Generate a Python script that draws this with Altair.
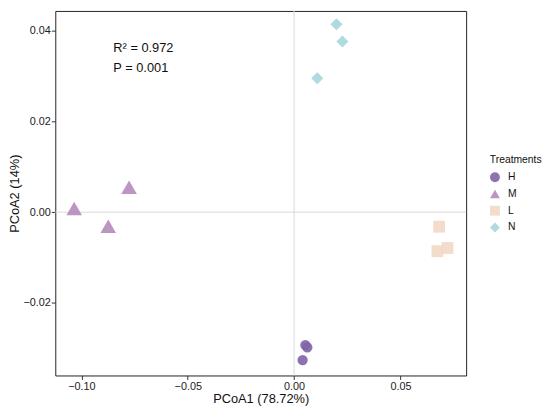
import altair as alt
import pandas as pd

groups = ["H", "H", "H", "M", "M", "M", "L", "L", "L", "N", "N", "N"]
pc1 = [0.0053, 0.0062, 0.0040, -0.1034, -0.0874, -0.0776, 0.0682, 0.0674, 0.0721, 0.0199, 0.0227, 0.0109]
pc2 = [-0.0293, -0.0298, -0.0326, 0.0008, -0.0031, 0.0055, -0.0032, -0.0086, -0.0079, 0.0414, 0.0376, 0.0295]

order = ["H", "M", "L", "N"]
colors = ["#8064a6", "#b589bb", "#f2d8c6", "#a6d6db"]
shapes = ["circle", "triangle-up", "square", "diamond"]
sizes = [110, 250, 144, 150]

ann_text = ["R² = 0.972", "P = 0.001"]
ann_x = [-0.0850, -0.0850]
ann_y = [0.0361, 0.0318]

size_map = dict(zip(order, sizes))
df = pd.DataFrame({"Treatments": groups, "PC1": pc1, "PC2": pc2})
df["sz"] = df["Treatments"].map(size_map)
ann = pd.DataFrame({"t": ann_text, "x": ann_x, "y": ann_y})
zero = pd.DataFrame({"z": [0.0]})

xdom = [-0.1123, 0.0809]
ydom = [-0.0360, 0.04435]
FONT = "Liberation Sans"
XT = "PCoA1 (78.72%)"
YT = "PCoA2 (14%)"

xs = alt.Scale(domain=xdom, nice=False, zero=False)
ys = alt.Scale(domain=ydom, nice=False, zero=False)
xax = alt.Axis(values=[-0.10, -0.05, 0.0, 0.05], format=".2f")
yax = alt.Axis(values=[-0.02, 0.0, 0.02, 0.04], format=".2f")

vline = alt.Chart(zero).mark_rule(color="#d9d9d9", strokeWidth=1).encode(
    x=alt.X("z:Q", scale=xs, title=XT, axis=xax)
)
hline = alt.Chart(zero).mark_rule(color="#d9d9d9", strokeWidth=1).encode(
    y=alt.Y("z:Q", scale=ys, title=YT, axis=yax)
)

pts = alt.Chart(df).mark_point(filled=True, opacity=0.9, strokeWidth=0).encode(
    x=alt.X("PC1:Q", scale=xs, title=XT, axis=xax),
    y=alt.Y("PC2:Q", scale=ys, title=YT, axis=yax),
    color=alt.Color("Treatments:N", scale=alt.Scale(domain=order, range=colors),
                    legend=alt.Legend(orient="none", legendX=441, legendY=146)),
    shape=alt.Shape("Treatments:N", scale=alt.Scale(domain=order, range=shapes)),
    size=alt.Size("sz:Q", scale=None, legend=None),
)

txt = alt.Chart(ann).mark_text(align="left", baseline="middle", fontSize=13,
                               font=FONT, color="#111111").encode(
    x=alt.X("x:Q", scale=xs, title=XT, axis=xax),
    y=alt.Y("y:Q", scale=ys, title=YT, axis=yax),
    text="t:N",
)

chart = alt.layer(vline, hline, pts, txt).properties(
    width=417, height=370,
    autosize=alt.AutoSizeParams(type="none"),
    padding={"left": 48, "top": 0, "right": 77, "bottom": 30},
).configure_view(
    stroke="#222222", strokeWidth=1
).configure_axis(
    domain=False, grid=False, ticks=True, tickSize=4, tickColor="#333333",
    labelFont=FONT, labelFontSize=11, labelColor="#222222",
    titleFont=FONT, titleFontSize=13, titleColor="#111111", titleFontWeight="normal",
    labelPadding=1,
).configure_axisX(titlePadding=1, labelPadding=1).configure_axisY(titlePadding=1).configure_legend(
    titleFont=FONT, titleFontSize=10.5, titleFontWeight="normal", titleColor="#111111",
    labelFont=FONT, labelFontSize=10.5, labelColor="#111111", titlePadding=7,
    symbolSize=100, symbolOpacity=0.9, rowPadding=6, symbolStrokeWidth=0,
    labelOffset=8,
)

chart.save("out.html", embed_options={"renderer": "svg", "actions": False})
